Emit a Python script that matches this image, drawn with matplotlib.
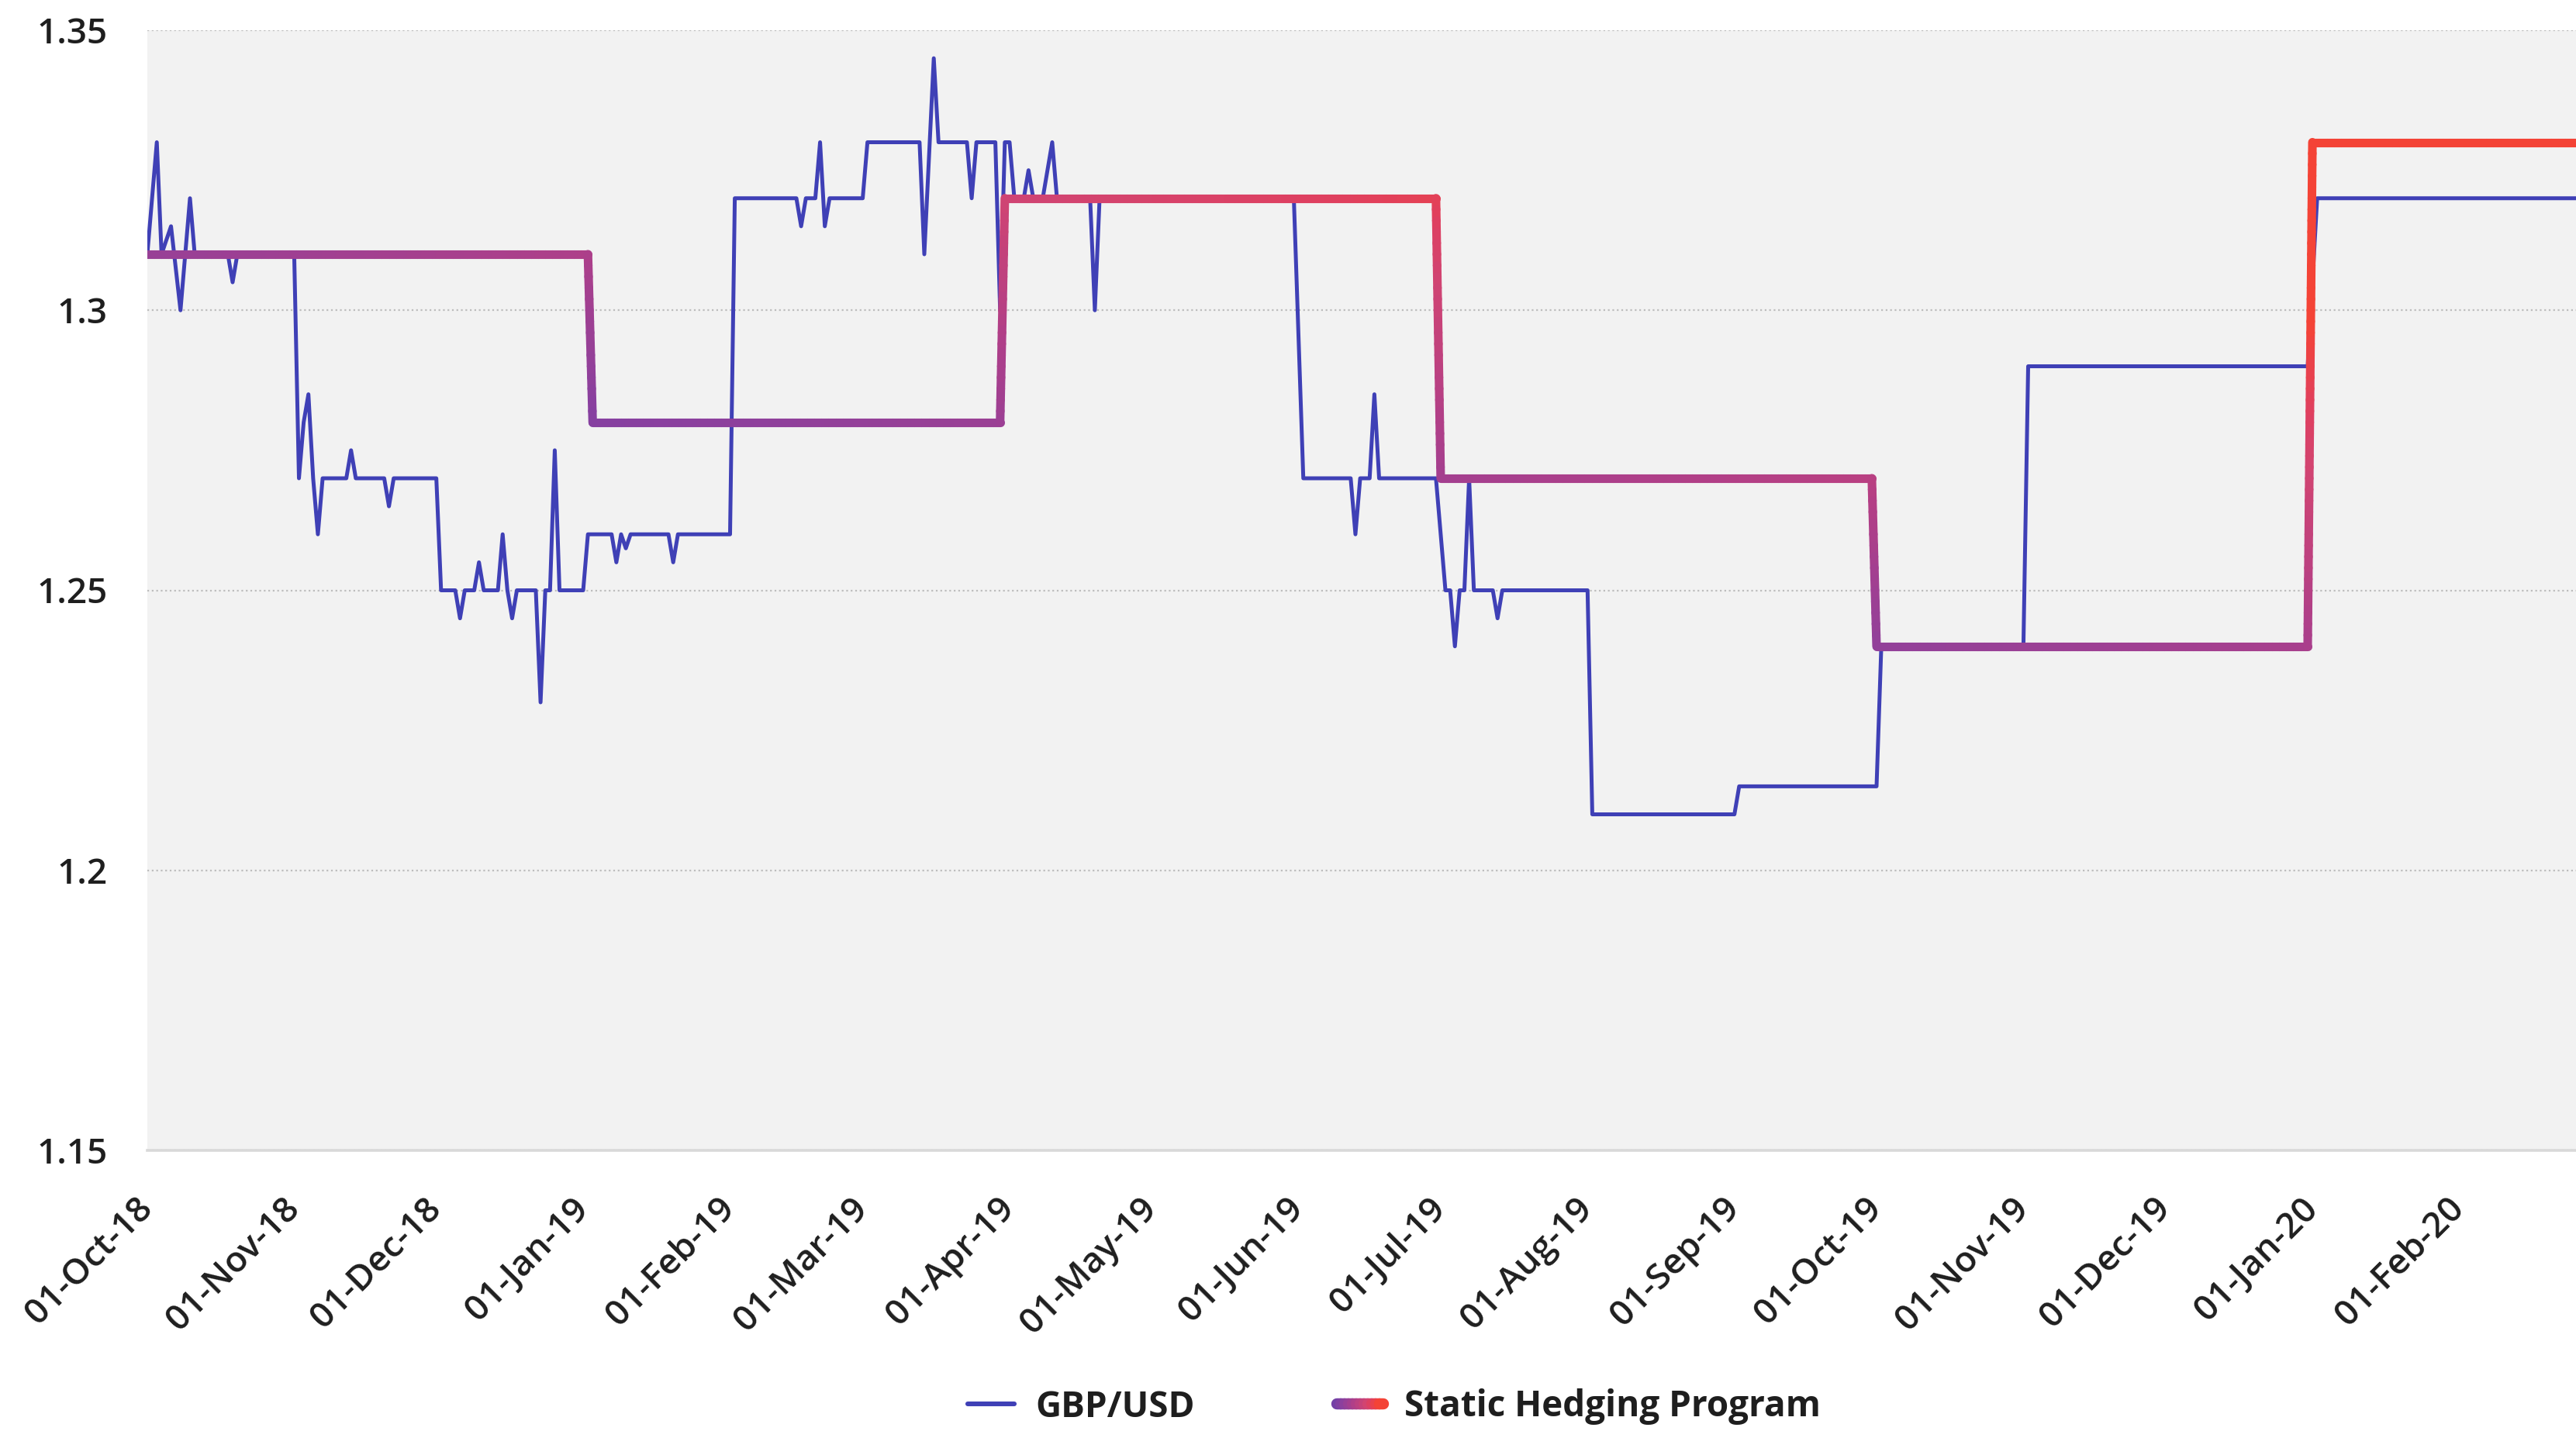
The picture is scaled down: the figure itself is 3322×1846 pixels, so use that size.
import numpy as np
import pandas as pd
import matplotlib
matplotlib.use("Agg")
import matplotlib.pyplot as plt
import matplotlib.dates as mdates
from matplotlib.collections import LineCollection
from matplotlib.colors import LinearSegmentedColormap
from matplotlib.legend_handler import HandlerBase
from matplotlib.lines import Line2D
from matplotlib.transforms import ScaledTranslation

plt.rcParams['font.family'] = ['Open Sans', 'DejaVu Sans']

# GBP/USD spot (line vertices)
gbp_dates = [
    "2018-10-01", "2018-10-03", "2018-10-04", "2018-10-06", "2018-10-08", "2018-10-10", "2018-10-11", "2018-10-18", "2018-10-19", "2018-10-20",
    "2018-11-01", "2018-11-02", "2018-11-03", "2018-11-04", "2018-11-05", "2018-11-06", "2018-11-07", "2018-11-12", "2018-11-13", "2018-11-14",
    "2018-11-20", "2018-11-21", "2018-11-22", "2018-12-01", "2018-12-02", "2018-12-05", "2018-12-06", "2018-12-07", "2018-12-09", "2018-12-10",
    "2018-12-11", "2018-12-14", "2018-12-15", "2018-12-16", "2018-12-17", "2018-12-18", "2018-12-22", "2018-12-23", "2018-12-24", "2018-12-25",
    "2018-12-26", "2018-12-27", "2019-01-01", "2019-01-02", "2019-01-07", "2019-01-08", "2019-01-09", "2019-01-10", "2019-01-11", "2019-01-19",
    "2019-01-20", "2019-01-21", "2019-02-01", "2019-02-02", "2019-02-15", "2019-02-16", "2019-02-17", "2019-02-19", "2019-02-20", "2019-02-21",
    "2019-02-22", "2019-03-01", "2019-03-02", "2019-03-13", "2019-03-14", "2019-03-16", "2019-03-17", "2019-03-23", "2019-03-24", "2019-03-25",
    "2019-03-29", "2019-03-30", "2019-03-31", "2019-04-01", "2019-04-02", "2019-04-04", "2019-04-05", "2019-04-06", "2019-04-08", "2019-04-10",
    "2019-04-11", "2019-04-18", "2019-04-19", "2019-04-20", "2019-05-31", "2019-06-02", "2019-06-12", "2019-06-13", "2019-06-14", "2019-06-16",
    "2019-06-17", "2019-06-18", "2019-06-30", "2019-07-02", "2019-07-03", "2019-07-04", "2019-07-05", "2019-07-06", "2019-07-07", "2019-07-08",
    "2019-07-12", "2019-07-13", "2019-07-14", "2019-08-01", "2019-08-02", "2019-09-01", "2019-09-02", "2019-10-01", "2019-10-02", "2019-11-01",
    "2019-11-02", "2019-12-31", "2020-01-02", "2020-02-28",
]
gbp_rates = [
    1.31, 1.33, 1.31, 1.315, 1.30, 1.32, 1.31, 1.31, 1.305, 1.31,
    1.31, 1.27, 1.28, 1.285, 1.27, 1.26, 1.27, 1.27, 1.275, 1.27,
    1.27, 1.265, 1.27, 1.27, 1.25, 1.25, 1.245, 1.25, 1.25, 1.255,
    1.25, 1.25, 1.26, 1.25, 1.245, 1.25, 1.25, 1.23, 1.25, 1.25,
    1.275, 1.25, 1.25, 1.26, 1.26, 1.255, 1.26, 1.2575, 1.26, 1.26,
    1.255, 1.26, 1.26, 1.32, 1.32, 1.315, 1.32, 1.32, 1.33, 1.315,
    1.32, 1.32, 1.33, 1.33, 1.31, 1.345, 1.33, 1.33, 1.32, 1.33,
    1.33, 1.30, 1.33, 1.33, 1.32, 1.32, 1.325, 1.32, 1.32, 1.33,
    1.32, 1.32, 1.30, 1.32, 1.32, 1.27, 1.27, 1.26, 1.27, 1.27,
    1.285, 1.27, 1.27, 1.25, 1.25, 1.24, 1.25, 1.25, 1.27, 1.25,
    1.25, 1.245, 1.25, 1.25, 1.21, 1.21, 1.215, 1.215, 1.24, 1.24,
    1.29, 1.29, 1.32, 1.32,
]

# quarterly hedge rate
hedge_dates = ["2018-10-01", "2019-01-02", "2019-01-03", "2019-03-30", "2019-03-31", "2019-06-30",
               "2019-07-01", "2019-09-30", "2019-10-01", "2019-12-31", "2020-01-01", "2020-02-28"]
hedge_rates = [1.31, 1.31, 1.28, 1.28, 1.32, 1.32, 1.27, 1.27, 1.24, 1.24, 1.33, 1.33]

y_ticks = [1.15, 1.2, 1.25, 1.3, 1.35]
month_ticks = pd.date_range("2018-10-01", "2020-02-01", freq="MS")

BLUE = "#3f40b6"
TEXT = "#1e1e1e"
hedge_cmap = LinearSegmentedColormap.from_list(
    "hedge",
    [(0.0, "#3c3fb9"), (0.398, "#8740a0"), (0.619, "#b03f88"),
     (0.807, "#d14472"), (0.884, "#df4060"), (1.0, "#f44336")],
)

W, H, DPI = 3323, 1846, 200
fig = plt.figure(figsize=(W / DPI, H / DPI), dpi=DPI)
ax = fig.add_axes([190 / W, 1 - 1484 / H, 1 - 190 / W, (1484 - 39) / H])
ax.set_facecolor("#f2f2f2")

x0 = mdates.date2num(pd.Timestamp("2018-10-01"))
x1 = x0 + 512.8
ax.set_xlim(x0, x1)
ax.set_ylim(1.15, 1.35)

gx = mdates.date2num(pd.to_datetime(gbp_dates))
ax.plot(gx, gbp_rates, color=BLUE, lw=1.8, solid_joinstyle="round",
        solid_capstyle="round", zorder=3)


def gradient_line(ax, x, y, lw):
    # split each leg into short pieces so the colour can shift along the line
    x = np.asarray(x, float)
    y = np.asarray(y, float)
    ymin, ymax = y.min(), y.max()
    segs, tvals = [], []
    for i in range(len(x) - 1):
        n = max(2, int(abs(x[i + 1] - x[i]) / 1.5) + int(abs(y[i + 1] - y[i]) / 0.002))
        xs = np.linspace(x[i], x[i + 1], n + 1)
        ys = np.linspace(y[i], y[i + 1], n + 1)
        for j in range(n):
            segs.append([(xs[j], ys[j]), (xs[j + 1], ys[j + 1])])
            xm = (xs[j] + xs[j + 1]) / 2
            ym = (ys[j] + ys[j + 1]) / 2
            u = (xm - x0) / (x1 - x0)
            v = (ym - ymin) / (ymax - ymin)
            tvals.append(np.clip(0.67 * u + 0.65 * v - 0.02, 0, 1))
    lc = LineCollection(segs, colors=hedge_cmap(np.array(tvals)), linewidths=lw,
                        capstyle="round", joinstyle="round", zorder=4)
    ax.add_collection(lc)
    return lc


hx = mdates.date2num(pd.to_datetime(hedge_dates))
hedge_lc = gradient_line(ax, hx, hedge_rates, 4.0)

# axes styling
for side in ["top", "right", "left"]:
    ax.spines[side].set_visible(False)
ax.spines["bottom"].set_color("#d9d9d9")
ax.spines["bottom"].set_linewidth(1.3)
ax.set_axisbelow(True)
ax.yaxis.grid(True, color="#bdbdbd", linestyle=(0, (1, 1.6)), lw=0.8)

ax.set_yticks(y_ticks)
ax.set_yticklabels([f"{v:g}" for v in y_ticks])
ax.tick_params(axis="y", length=0, pad=18.5, labelsize=16.5, labelcolor=TEXT)

ax.set_xticks(mdates.date2num(month_ticks))
ax.set_xticklabels([d.strftime("%d-%b-%y") for d in month_ticks])
ax.tick_params(axis="x", length=0, pad=19, labelsize=16.5, labelcolor=TEXT,
               labelrotation=45)
for lab in ax.get_xticklabels() + ax.get_yticklabels():
    lab.set_fontweight("semibold")
for lab in ax.get_xticklabels():
    lab.set_ha("right")


class GradientHandler(HandlerBase):
    def create_artists(self, legend, orig_handle, xdescent, ydescent,
                       width, height, fontsize, trans):
        xs = np.linspace(-xdescent, width - xdescent, 13)
        yc = height / 2 - ydescent
        segs = [[(xs[i], yc), (xs[i + 1], yc)] for i in range(len(xs) - 1)]
        cols = hedge_cmap(np.linspace(0.3, 1.0, len(segs)))
        lc = LineCollection(segs, colors=cols, linewidths=5.2,
                            capstyle="round", transform=trans)
        return [lc]


blue_handle = Line2D([], [], color=BLUE, lw=2.2, solid_capstyle="round")
leg = fig.legend([blue_handle, hedge_lc], ["GBP/USD", "Static Hedging Program"],
                 loc="center", bbox_to_anchor=(1798 / W, 1 - 1815 / H), ncol=2,
                 frameon=False, handlelength=1.3, handletextpad=0.6,
                 columnspacing=4.0, handler_map={hedge_lc: GradientHandler()},
                 prop={"size": 16.5, "weight": "bold"})
for t in leg.get_texts():
    t.set_color(TEXT)

# nudge the slanted date labels right once the ticks exist
fig.canvas.draw()
shift = ScaledTranslation(16 / DPI, 0, fig.dpi_scale_trans)
for tick in ax.xaxis.get_major_ticks():
    tick.label1.set_transform(tick.label1.get_transform() + shift)

fig.savefig("out.png", dpi=DPI, facecolor="white")
